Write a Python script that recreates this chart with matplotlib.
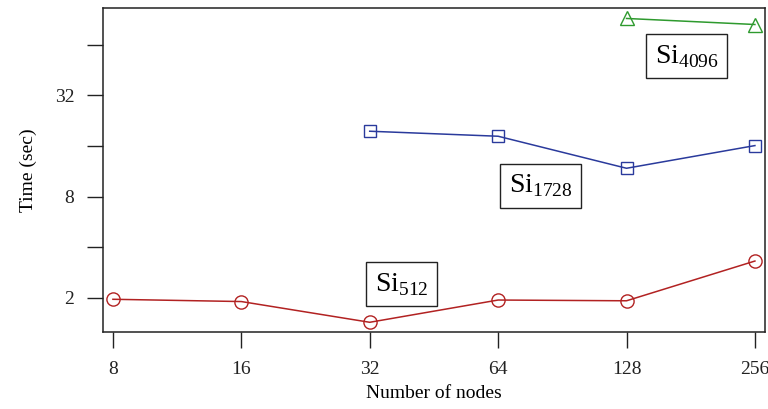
import matplotlib.pyplot as plt
from matplotlib.ticker import FixedLocator, NullLocator

plt.rcParams['font.family'] = ['Liberation Serif', 'DejaVu Serif']
plt.rcParams['mathtext.fontset'] = 'custom'
plt.rcParams['mathtext.rm'] = 'Liberation Serif'

# timings per system size
nodes_512 = [8, 16, 32, 64, 128, 256]
time_512 = [1.96, 1.90, 1.43, 1.94, 1.92, 3.31]
nodes_1728 = [32, 64, 128, 256]
time_1728 = [19.6, 18.3, 11.8, 16.1]
nodes_4096 = [128, 256]
time_4096 = [91.9, 84.6]

x_ticks = [8, 16, 32, 64, 128, 256]
y_ticks = [2, 4, 8, 16, 32, 64]
y_labels = ['2', '', '8', '', '32', '']

fig = plt.figure(figsize=(7.68, 4.09), dpi=100)
ax = fig.add_axes([0.134, 0.188, 0.862, 0.792])

ax.plot(nodes_512, time_512, color='#b22222', lw=1.1, marker='o', ms=9.5,
        mfc='none', mew=1.0)
ax.plot(nodes_1728, time_1728, color='#2a3a9c', lw=1.1, marker='s', ms=8.5,
        mfc='none', mew=1.0)
ax.plot(nodes_4096, time_4096, color='#2e9a2e', lw=1.1, marker='^', ms=9.5,
        mfc='none', mew=1.0)

ax.set_xscale('log', base=2)
ax.set_yscale('log', base=2)
ax.set_xlim(8 * 2 ** -0.078, 256 * 2 ** 0.078)
ax.set_ylim(1.25, 105.8)

ax.xaxis.set_major_locator(FixedLocator(x_ticks))
ax.xaxis.set_minor_locator(NullLocator())
ax.set_xticklabels([str(v) for v in x_ticks])
ax.yaxis.set_major_locator(FixedLocator(y_ticks))
ax.yaxis.set_minor_locator(NullLocator())
ax.set_yticklabels(y_labels)

ax.tick_params(direction='out', length=11.5, width=1.0, labelsize=14,
               pad=9, colors='#222222')
for s in ax.spines.values():
    s.set_linewidth(1.1)
    s.set_color('#222222')

ax.set_xlabel('Number of nodes', fontsize=14, labelpad=5)
ax.set_ylabel('Time (sec)', fontsize=14, labelpad=13)

box = dict(boxstyle='square,pad=0.32', fc='white', ec='#222222', lw=1.0)
ax.text(38, 2.41, r'Si$_{\mathrm{512}}$', fontsize=20, ha='center', va='center', bbox=box)
ax.text(80.5, 9.25, r'Si$_{\mathrm{1728}}$', fontsize=20, ha='center', va='center', bbox=box)
ax.text(177, 54.8, r'Si$_{\mathrm{4096}}$', fontsize=20, ha='center', va='center', bbox=box)

fig.savefig('out.png', dpi=100)
